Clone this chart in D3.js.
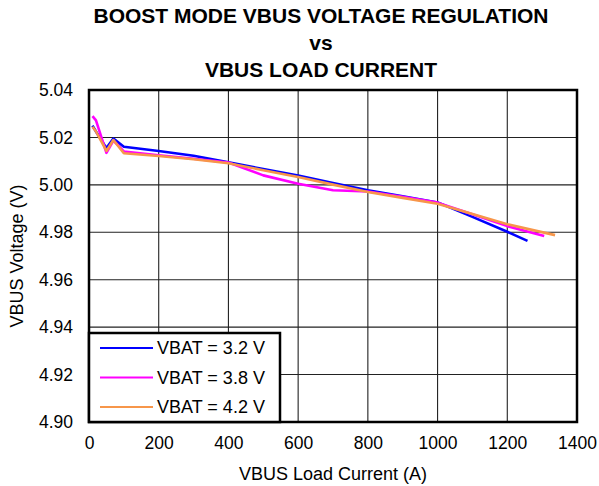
<!DOCTYPE html>
<html>
<head>
<meta charset="utf-8">
<script src="https://cdn.jsdelivr.net/npm/d3@7"></script>
<style>
  body { margin: 0; background: #fff; }
  text { font-family: Arial, "Liberation Sans", sans-serif; }
</style>
</head>
<body>
<div id="container"></div>
<script>
/**
 * CONSTANTS AND GLOBALS
 * */
const width = 599,
    height = 486,
    margin = { top: 90, bottom: 64, left: 89, right: 22 };

// chart data
const titleLines = ["BOOST MODE VBUS VOLTAGE REGULATION", "vs", "VBUS LOAD CURRENT"];
const xTicks = [0, 200, 400, 600, 800, 1000, 1200, 1400];
const yTicks = [4.90, 4.92, 4.94, 4.96, 4.98, 5.00, 5.02, 5.04];
const seriesNames = ["VBAT = 3.2 V", "VBAT = 3.8 V", "VBAT = 4.2 V"];
const seriesColors = ["#0000FF", "#FF00FF", "#F7964A"];

const current32 = [10, 20, 50, 70, 100, 200, 300, 400, 500, 600, 700, 800, 900, 1000, 1100, 1200, 1258];
const vbus32 = [5.0250, 5.0225, 5.0155, 5.0195, 5.0161, 5.0143, 5.0123, 5.0095, 5.0067, 5.0039, 5.0008, 4.9977, 4.9952, 4.9926, 4.9865, 4.9802, 4.9764];

const current38 = [10, 20, 50, 70, 100, 200, 300, 400, 500, 600, 700, 800, 900, 1000, 1100, 1200, 1306];
const vbus38 = [5.0290, 5.0272, 5.0135, 5.0187, 5.0141, 5.0125, 5.0110, 5.0094, 5.0040, 5.0005, 4.9977, 4.9972, 4.9950, 4.9925, 4.9876, 4.9826, 4.9784];

const current42 = [10, 20, 50, 70, 100, 200, 300, 400, 500, 600, 700, 800, 900, 1000, 1100, 1200, 1337];
const vbus42 = [5.0245, 5.0225, 5.0143, 5.0189, 5.0133, 5.0122, 5.0108, 5.0091, 5.0062, 5.0033, 5.0001, 4.9970, 4.9945, 4.9920, 4.9877, 4.9834, 4.9788];

const series = [
    { name: seriesNames[0], color: seriesColors[0], values: current32.map((c, i) => [c, vbus32[i]]) },
    { name: seriesNames[1], color: seriesColors[1], values: current38.map((c, i) => [c, vbus38[i]]) },
    { name: seriesNames[2], color: seriesColors[2], values: current42.map((c, i) => [c, vbus42[i]]) }
];

/* SVG AND CONTAINERS */
const svg = d3.select("#container")
    .append("svg")
    .attr("width", width)
    .attr("height", height);

const xScale = d3.scaleLinear()
    .domain([0, 1400])
    .range([margin.left, width - margin.right]);

const yScale = d3.scaleLinear()
    .domain([4.90, 5.04])
    .range([height - margin.bottom, margin.top]);

/* gridlines */
svg.append("g")
    .attr("class", "grid")
    .selectAll("line.v")
    .data(xTicks)
    .join("line")
    .attr("x1", d => xScale(d))
    .attr("x2", d => xScale(d))
    .attr("y1", yScale(5.04))
    .attr("y2", yScale(4.90))
    .attr("stroke", "#222")
    .attr("stroke-width", 1.1);

svg.select("g.grid")
    .selectAll("line.h")
    .data(yTicks)
    .join("line")
    .attr("class", "h")
    .attr("x1", xScale(0))
    .attr("x2", xScale(1400))
    .attr("y1", d => yScale(d))
    .attr("y2", d => yScale(d))
    .attr("stroke", "#222")
    .attr("stroke-width", 1.1);

/* axes (labels only, no tick marks) */
const xAxis = d3.axisBottom(xScale)
    .tickValues(xTicks)
    .tickFormat(d3.format("d"))
    .tickSize(0)
    .tickPadding(15);
const yAxis = d3.axisLeft(yScale)
    .tickValues(yTicks)
    .tickFormat(d3.format(".2f"))
    .tickSize(0)
    .tickPadding(16);

const xAxisGroup = svg.append("g")
    .attr("class", "x-axis")
    .attr("transform", `translate(0,${height - margin.bottom})`)
    .call(xAxis);
const yAxisGroup = svg.append("g")
    .attr("class", "y-axis")
    .attr("transform", `translate(${margin.left},0)`)
    .call(yAxis);

[xAxisGroup, yAxisGroup].forEach(g => {
    g.select(".domain").remove();
    g.selectAll("text")
        .attr("font-family", "Arial, 'Liberation Sans', sans-serif")
        .attr("font-size", 17.5)
        .attr("fill", "#000");
});

/* lines */
const lineGen = d3.line()
    .x(d => xScale(d[0]))
    .y(d => yScale(d[1]));

svg.selectAll("path.series")
    .data(series)
    .join("path")
    .attr("class", "series")
    .attr("d", d => lineGen(d.values))
    .attr("fill", "none")
    .attr("stroke", d => d.color)
    .attr("stroke-width", 2.6)
    .attr("stroke-linejoin", "round");

/* frame */
svg.append("rect")
    .attr("x", xScale(0))
    .attr("y", yScale(5.04))
    .attr("width", xScale(1400) - xScale(0))
    .attr("height", yScale(4.90) - yScale(5.04))
    .attr("fill", "none")
    .attr("stroke", "#000")
    .attr("stroke-width", 2.5);

/* legend */
const legendBox = { x: xScale(0), y: 333, w: 191 };
const legend = svg.append("g").attr("class", "legend");
legend.append("rect")
    .attr("x", legendBox.x)
    .attr("y", legendBox.y)
    .attr("width", legendBox.w)
    .attr("height", yScale(4.90) - legendBox.y)
    .attr("fill", "#fff")
    .attr("stroke", "#000")
    .attr("stroke-width", 2.5);

const rows = legend.selectAll("g.row")
    .data(series)
    .join("g")
    .attr("class", "row")
    .attr("transform", (d, i) => `translate(${legendBox.x}, ${348 + i * 29.5})`);
rows.append("line")
    .attr("x1", 11)
    .attr("x2", 64)
    .attr("stroke", d => d.color)
    .attr("stroke-width", 2.2);
rows.append("text")
    .attr("x", 68)
    .attr("dy", "0.35em")
    .attr("font-size", 18)
    .text(d => d.name);

/* titles */
svg.append("g")
    .selectAll("text")
    .data(titleLines)
    .join("text")
    .attr("x", 321)
    .attr("y", (d, i) => 23 + i * 27)
    .attr("text-anchor", "middle")
    .attr("font-weight", "bold")
    .attr("font-size", 21)
    .text(d => d);

svg.append("text")
    .attr("x", 333)
    .attr("y", 480)
    .attr("text-anchor", "middle")
    .attr("font-size", 18)
    .text("VBUS Load Current (A)");

svg.append("text")
    .attr("transform", `translate(23, ${(yScale(5.04) + yScale(4.90)) / 2}) rotate(-90)`)
    .attr("text-anchor", "middle")
    .attr("font-size", 18)
    .text("VBUS Voltage (V)");
</script>
</body>
</html>
